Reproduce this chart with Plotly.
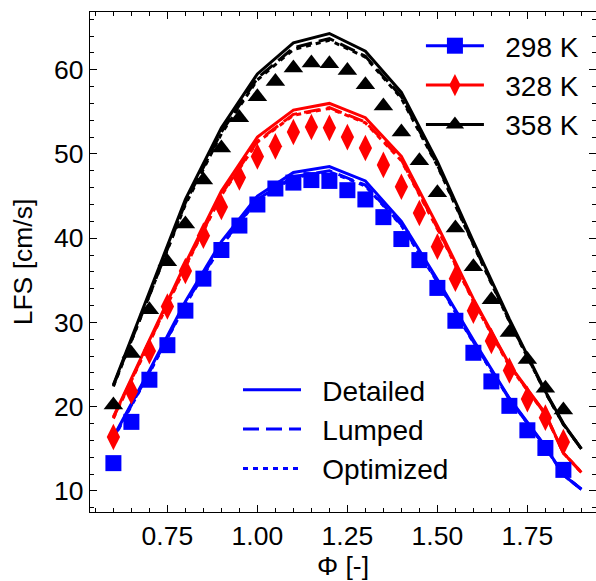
import plotly.graph_objects as go

# ---------------- data ----------------
phi_exp = [0.60, 0.65, 0.70, 0.75, 0.80, 0.85, 0.90, 0.95, 1.00, 1.05, 1.10, 1.15, 1.20,
           1.25, 1.30, 1.35, 1.40, 1.45, 1.50, 1.55, 1.60, 1.65, 1.70, 1.75, 1.80, 1.85]
exp_298 = [13.3, 18.2, 23.2, 27.3, 31.4, 35.2, 38.6, 41.5, 44.0, 45.9, 46.6, 46.9, 46.8,
           45.7, 44.6, 42.5, 39.9, 37.4, 34.1, 30.2, 26.4, 23.0, 20.1, 17.2, 15.1, 12.5]
exp_328 = [16.4, 21.8, 26.6, 31.9, 36.1, 40.3, 43.7, 47.2, 49.7, 50.9, 52.6, 53.2, 53.1,
           52.0, 50.7, 48.7, 46.1, 43.0, 39.0, 35.2, 31.4, 27.8, 24.3, 20.9, 18.7, 15.8]
exp_358 = [20.2, 26.3, 31.5, 37.2, 41.7, 46.9, 50.7, 54.3, 56.8, 58.6, 60.2, 60.8, 60.7,
           59.9, 58.2, 55.7, 52.6, 49.2, 45.4, 41.2, 36.6, 32.7, 28.8, 25.6, 22.2, 19.6]

phi_sim = [0.6, 0.7, 0.8, 0.9, 1.0, 1.1, 1.2, 1.3, 1.4, 1.5, 1.6, 1.7, 1.8, 1.85, 1.9]
det_298 = [16.4, 24.3, 32.5, 39.6, 45.0, 47.8, 48.5, 46.8, 42.0, 35.1, 27.9, 21.0, 15.3, 11.9, 10.2]
lum_298 = [16.3, 24.1, 32.2, 39.2, 44.6, 47.3, 48.0, 46.3, 41.6, 34.9, 27.7, 20.9, 15.2, 11.9, 10.2]
opt_298 = [16.2, 24.0, 32.1, 39.1, 44.5, 47.2, 47.9, 46.2, 41.5, 34.8, 27.6, 20.9, 15.2, 11.9, 10.2]
det_328 = [18.8, 27.8, 37.0, 45.6, 52.0, 55.2, 56.0, 54.3, 49.7, 41.5, 32.8, 25.0, 19.2, 14.5, 12.2]
lum_328 = [18.7, 27.6, 36.7, 45.2, 51.5, 54.7, 55.5, 53.8, 49.3, 41.2, 32.6, 24.9, 19.1, 14.5, 12.2]
opt_328 = [18.6, 27.5, 36.6, 45.1, 51.4, 54.6, 55.4, 53.7, 49.2, 41.1, 32.5, 24.8, 19.1, 14.5, 12.2]
det_358 = [22.6, 33.5, 44.6, 53.1, 59.5, 63.2, 64.3, 62.2, 57.3, 49.1, 39.6, 30.4, 21.8, 18.0, 15.0]
lum_358 = [22.5, 33.2, 44.2, 52.6, 59.0, 62.6, 63.7, 61.6, 56.8, 48.7, 39.3, 30.2, 21.7, 17.9, 15.0]
opt_358 = [22.4, 33.1, 44.0, 52.4, 58.8, 62.4, 63.5, 61.5, 56.6, 48.6, 39.2, 30.1, 21.7, 17.9, 15.0]

temps = ["298 K", "328 K", "358 K"]
colors = ["#0000FF", "#FF0000", "#000000"]
symbols = ["square", "diamond-tall", "triangle-up"]
sizes = [16, 19, 17]
models = ["Detailed", "Lumped", "Optimized"]
dashes = ["solid", "16px,7px", "5px,5px"]

exp_sets = [exp_298, exp_328, exp_358]
sim_sets = [[det_298, lum_298, opt_298],
            [det_328, lum_328, opt_328],
            [det_358, lum_358, opt_358]]

FONT = "Liberation Sans, Arial, sans-serif"
GAP = "\u2002\u200a"  # spacing between legend symbol and label

fig = go.Figure()

# simulation lines
for i in range(3):
    for j in range(3):
        fig.add_trace(go.Scatter(
            x=phi_sim, y=sim_sets[i][j], mode="lines",
            line=dict(color=colors[i], width=3, dash=dashes[j]),
            showlegend=(i == 0), name=GAP + models[j], legend="legend2"))

# experimental markers
for i in range(3):
    fig.add_trace(go.Scatter(
        x=phi_exp, y=exp_sets[i], mode="markers",
        marker=dict(symbol=symbols[i], size=sizes[i], color=colors[i], line=dict(width=0)),
        showlegend=False, name=temps[i]))

# legend proxies for temperatures
for i in range(3):
    fig.add_trace(go.Scatter(
        x=[None], y=[None], mode="lines+markers", name=GAP + temps[i],
        line=dict(color=colors[i], width=3),
        marker=dict(symbol=symbols[i], size=sizes[i], color=colors[i], line=dict(width=0)),
        legend="legend"))

axis_common = dict(
    showline=True, linecolor="black", linewidth=1.2, mirror="ticks",
    ticks="inside", ticklen=7, tickwidth=1, tickcolor="black",
    showgrid=False, zeroline=False,
    tickfont=dict(family=FONT, size=26.5, color="black"),
)

fig.update_layout(
    width=596, height=581,
    margin=dict(l=90, r=0, t=12, b=69),
    paper_bgcolor="white", plot_bgcolor="white",
    font=dict(family=FONT, size=26.5, color="black"),
    xaxis=dict(range=[0.535, 1.9406], tick0=0.75, dtick=0.25, tickformat=".2f",
               minor=dict(dtick=0.05, ticklen=4, ticks="inside", tickcolor="black"),
               title=dict(text="Φ [-]", font=dict(family=FONT, size=26.5), standoff=5),
               **axis_common),
    yaxis=dict(range=[7.5, 66.85], tick0=0, dtick=10,
               minor=dict(dtick=2, ticklen=4, ticks="inside", tickcolor="black"),
               title=dict(text="LFS [cm/s]", font=dict(family=FONT, size=26.5), standoff=13),
               **axis_common),
    legend=dict(x=0.654, y=0.982, xanchor="left", yanchor="top",
                bgcolor="rgba(0,0,0,0)", font=dict(family=FONT, size=28),
                itemwidth=58, tracegroupgap=0),
    legend2=dict(x=0.2925, y=0.294, xanchor="left", yanchor="top",
                 bgcolor="rgba(0,0,0,0)", font=dict(family=FONT, size=28),
                 itemwidth=58, tracegroupgap=0),
)

fig.write_html("out.html")
